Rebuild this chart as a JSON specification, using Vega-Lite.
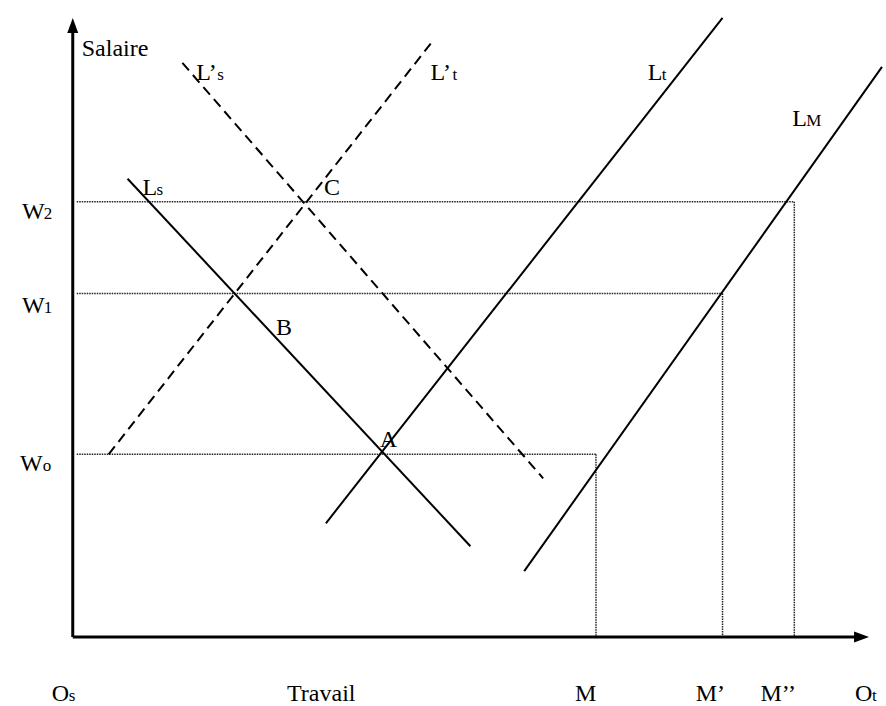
{
  "$schema": "https://vega.github.io/schema/vega-lite/v6.json",
  "width": 886,
  "height": 706,
  "padding": 0,
  "autosize": {"type": "fit", "contains": "padding"},
  "background": "white",
  "config": {"view": {"stroke": null}},
  "datasets": {
    "curves": [
      {"curve": "Ls", "q": 55, "w": 459}, {"curve": "Ls", "q": 399, "w": 91},
      {"curve": "Lt", "q": 254, "w": 114}, {"curve": "Lt", "q": 652, "w": 620},
      {"curve": "LM", "q": 453, "w": 66}, {"curve": "LM", "q": 812, "w": 571}
    ],
    "shifted": [
      {"curve": "L't", "q": 36, "w": 183}, {"curve": "L't", "q": 362, "w": 598},
      {"curve": "L's", "q": 110, "w": 575}, {"curve": "L's", "q": 472, "w": 159}
    ],
    "guides": [
      {"q": 4, "w": 436, "q2": 724, "w2": 436},
      {"q": 724, "w": 436, "q2": 724, "w2": 0},
      {"q": 4, "w": 344, "q2": 652, "w2": 344},
      {"q": 652, "w": 344, "q2": 652, "w2": 0},
      {"q": 4, "w": 183, "q2": 525, "w2": 183},
      {"q": 525, "w": 183, "q2": 525, "w2": 0}
    ],
    "axes": [
      {"q": 0, "w": 0, "q2": 0, "w2": 613},
      {"q": 0, "w": 0, "q2": 792, "w2": 0}
    ],
    "arrowUp": [{"q": 0, "w": 612.5}],
    "arrowRight": [{"q": 791.5, "w": 0}],
    "labels": [
      {"text": "Salaire", "q": 9, "w": 582},
      {"text": "L’", "q": 124, "w": 558},
      {"text": "L’", "q": 359, "w": 558},
      {"text": "L", "q": 577, "w": 558},
      {"text": "L", "q": 722, "w": 512},
      {"text": "L", "q": 70, "w": 443},
      {"text": "C", "q": 252, "w": 443},
      {"text": "B", "q": 204, "w": 303},
      {"text": "A", "q": 308, "w": 190},
      {"text": "W", "q": -51, "w": 419},
      {"text": "W", "q": -51, "w": 325},
      {"text": "W", "q": -53, "w": 166},
      {"text": "O", "q": -21, "w": -64},
      {"text": "Travail", "q": 215, "w": -64},
      {"text": "M", "q": 504, "w": -64},
      {"text": "M’", "q": 625, "w": -64},
      {"text": "M’’", "q": 690, "w": -64},
      {"text": "O", "q": 785, "w": -64}
    ],
    "subs": [
      {"text": "s", "q": 145, "w": 558},
      {"text": "t", "q": 381, "w": 558},
      {"text": "t", "q": 591, "w": 558},
      {"text": "M", "q": 736, "w": 512},
      {"text": "s", "q": 84, "w": 443},
      {"text": "2", "q": -29, "w": 419},
      {"text": "1", "q": -29, "w": 325},
      {"text": "o", "q": -30, "w": 166},
      {"text": "s", "q": -4, "w": -64},
      {"text": "t", "q": 802, "w": -64}
    ]
  },
  "encoding": {
    "x": {"field": "q", "type": "quantitative", "scale": {"domain": [-73, 813], "nice": false, "zero": false}, "axis": null},
    "y": {"field": "w", "type": "quantitative", "scale": {"domain": [-68, 638], "nice": false, "zero": false}, "axis": null}
  },
  "layer": [
    {
      "data": {"name": "guides"},
      "mark": {"type": "rule", "color": "#222", "strokeWidth": 1.5, "strokeDash": [1.5, 1]},
      "encoding": {"x2": {"field": "q2"}, "y2": {"field": "w2"}}
    },
    {
      "data": {"name": "curves"},
      "mark": {"type": "line", "color": "black", "strokeWidth": 2},
      "encoding": {"detail": {"field": "curve"}, "order": {"field": "q", "type": "quantitative"}}
    },
    {
      "data": {"name": "shifted"},
      "mark": {"type": "line", "color": "black", "strokeWidth": 2, "strokeDash": [10, 6]},
      "encoding": {"detail": {"field": "curve"}, "order": {"field": "q", "type": "quantitative"}}
    },
    {
      "data": {"name": "axes"},
      "mark": {"type": "rule", "color": "black", "strokeWidth": 3},
      "encoding": {"x2": {"field": "q2"}, "y2": {"field": "w2"}}
    },
    {
      "data": {"name": "arrowUp"},
      "mark": {"type": "point", "shape": "M0,-1L-0.73,1L0.73,1Z", "filled": true, "color": "black", "size": 225, "opacity": 1},
      "encoding": {}
    },
    {
      "data": {"name": "arrowRight"},
      "mark": {"type": "point", "shape": "M1,0L-1,-0.73L-1,0.73Z", "filled": true, "color": "black", "size": 225, "opacity": 1},
      "encoding": {}
    },
    {
      "data": {"name": "labels"},
      "mark": {"type": "text", "font": "Times New Roman", "color": "black", "fontSize": 24, "align": "left", "baseline": "alphabetic"},
      "encoding": {"text": {"field": "text"}}
    },
    {
      "data": {"name": "subs"},
      "mark": {"type": "text", "font": "Times New Roman", "color": "black", "fontSize": 17, "align": "left", "baseline": "alphabetic"},
      "encoding": {"text": {"field": "text"}}
    }
  ]
}
